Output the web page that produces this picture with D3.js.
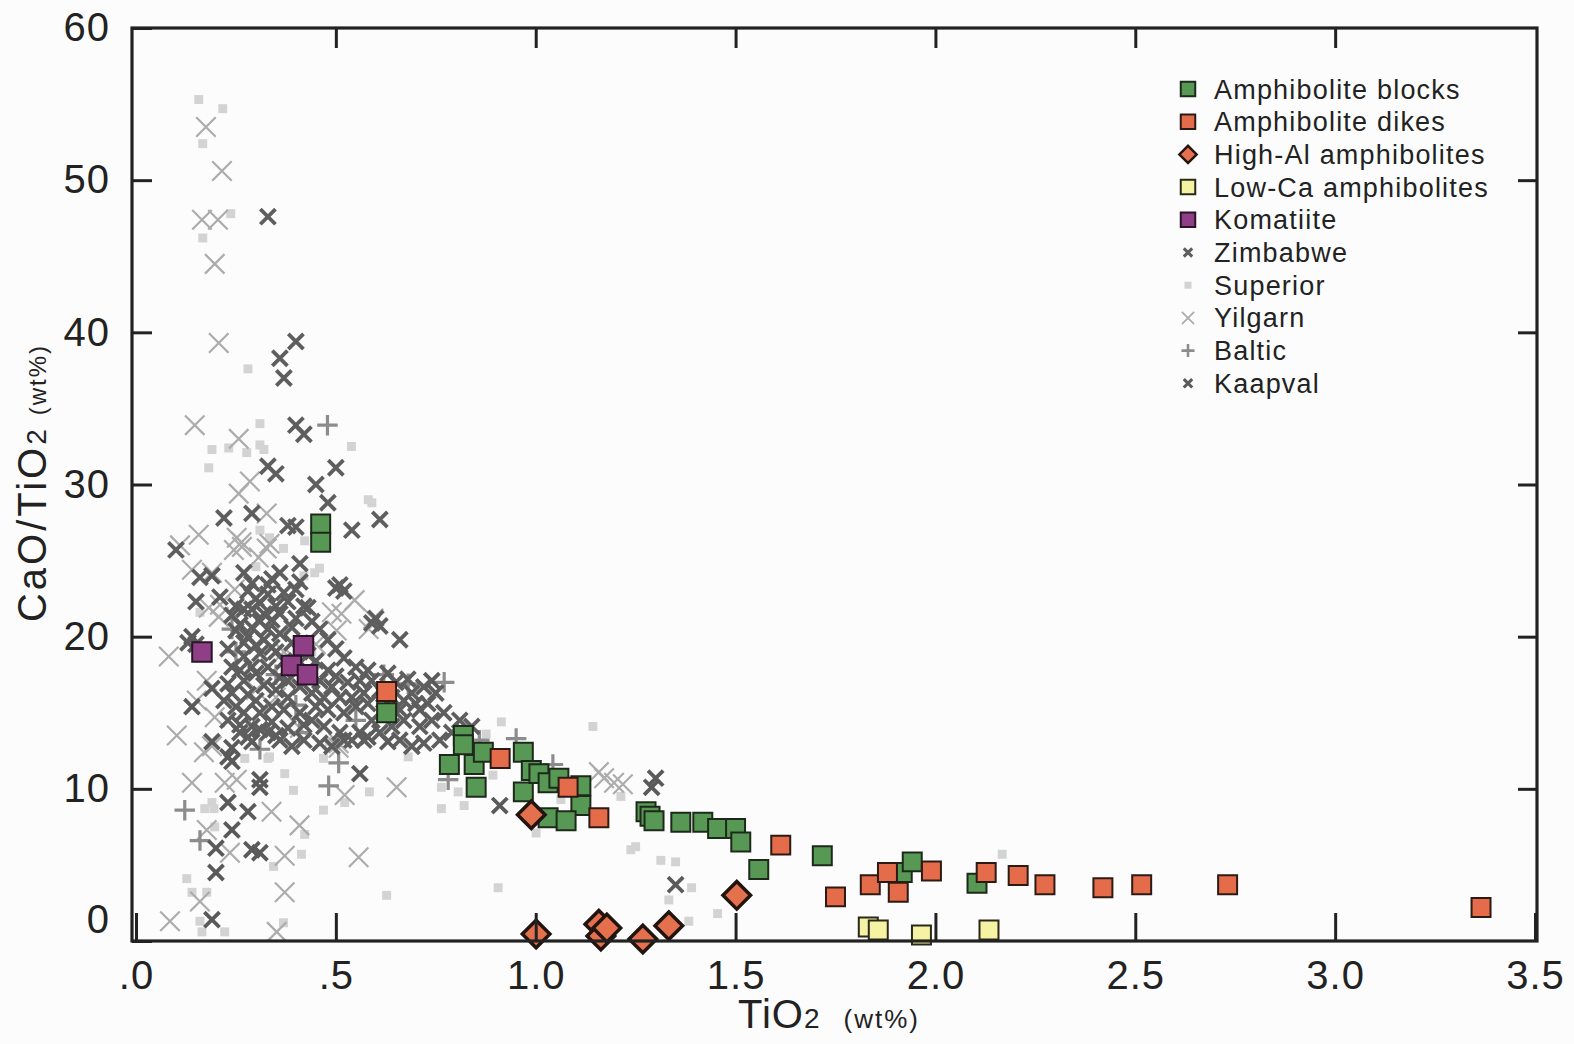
<!DOCTYPE html>
<html>
<head>
<meta charset="utf-8">
<script src="https://cdn.jsdelivr.net/npm/d3@7"></script>
<style>
  html, body { margin: 0; padding: 0; background: #fcfcfc; }
  svg { display: block; }
  text { font-family: "Liberation Sans", Arial, Helvetica, sans-serif; fill: #222; }
</style>
</head>
<body>
<svg id="chart" width="1574" height="1044"></svg>
<script>
// ---- Axis ticks ----
const xTickValues = [0, 0.5, 1.0, 1.5, 2.0, 2.5, 3.0, 3.5];
const xTickLabels = [".0", ".5", "1.0", "1.5", "2.0", "2.5", "3.0", "3.5"];
const yTickValues = [0, 10, 20, 30, 40, 50, 60];
const yTickLabels = ["0", "10", "20", "30", "40", "50", "60"];

// ---- Series: [TiO2 wt%, CaO/TiO2] ----
const amphiboliteBlocks = [
  [0.462, 27.4], [0.462, 26.2], [0.627, 15.0], [0.819, 13.5], [0.819, 12.9],
  [0.784, 11.6], [0.846, 11.6], [0.869, 12.4], [0.851, 10.1], [0.969, 12.4],
  [0.969, 9.8], [0.989, 11.2], [1.008, 11.0], [1.031, 10.4], [1.058, 10.7],
  [1.113, 10.2], [1.113, 8.9], [1.031, 8.1], [1.076, 7.9], [1.276, 8.5],
  [1.286, 8.2], [1.296, 7.9], [1.363, 7.8], [1.418, 7.8], [1.455, 7.4],
  [1.500, 7.4], [1.513, 6.5], [1.558, 4.7], [1.717, 5.6], [1.917, 4.5],
  [1.942, 5.2], [2.104, 3.8]
];
const amphiboliteDikes = [
  [0.627, 16.4], [0.911, 12.0], [1.081, 10.1], [1.158, 8.1], [1.613, 6.3],
  [1.750, 2.9], [1.837, 3.7], [1.880, 4.5], [1.907, 3.2], [1.990, 4.6],
  [2.127, 4.5], [2.207, 4.3], [2.274, 3.7], [2.419, 3.5], [2.516, 3.7],
  [2.731, 3.7], [3.365, 2.2]
];
const highAlAmphibolites = [
  [0.989, 8.3], [1.503, 3.0], [1.001, 0.46], [1.158, 1.1], [1.163, 0.33],
  [1.178, 0.85], [1.268, 0.13], [1.333, 1.0]
];
const lowCaAmphibolites = [
  [1.832, 0.92], [1.857, 0.72], [1.965, 0.39], [2.134, 0.72]
];
const komatiite = [
  [0.165, 19.0], [0.419, 19.4], [0.389, 18.1], [0.429, 17.5]
];
const zimbabwe = [
  [0.33, 47.6], [0.40, 39.4], [0.36, 38.3], [0.37, 37.0], [0.40, 33.9],
  [0.42, 33.3], [0.50, 31.1], [0.33, 31.2], [0.35, 30.7], [0.45, 30.0],
  [0.48, 28.8], [0.22, 27.8], [0.29, 28.1], [0.38, 27.3], [0.40, 27.2],
  [0.61, 27.7], [0.54, 27.0], [0.10, 25.7], [0.16, 23.9], [0.27, 24.2],
  [0.36, 24.2], [0.41, 24.8], [0.15, 22.3], [0.21, 22.6], [0.51, 23.4],
  [0.52, 23.0], [0.50, 23.2], [0.40, 23.1], [0.43, 21.9], [0.59, 20.9],
  [0.60, 21.2], [0.61, 20.7], [0.66, 19.8], [0.13, 19.6], [0.15, 19.5],
  [0.32, 21.5], [0.34, 21.1], [0.29, 20.6], [0.28, 20.0], [0.32, 19.8],
  [0.36, 20.2], [0.39, 20.6], [0.34, 19.3], [0.31, 18.9], [0.27, 18.7],
  [0.29, 18.0], [0.33, 18.0], [0.36, 17.3], [0.38, 17.1], [0.41, 16.7],
  [0.44, 16.3], [0.47, 16.0], [0.46, 17.1], [0.49, 16.7], [0.51, 16.0],
  [0.54, 16.0], [0.57, 16.3], [0.56, 17.1], [0.59, 17.1], [0.61, 16.5],
  [0.64, 16.0], [0.67, 15.8], [0.69, 16.3], [0.72, 16.7], [0.75, 16.3],
  [0.71, 15.2], [0.67, 14.5], [0.64, 14.1], [0.61, 13.7], [0.57, 13.2],
  [0.54, 13.2], [0.51, 13.7], [0.47, 14.1], [0.44, 14.5], [0.41, 15.0],
  [0.37, 15.2], [0.34, 15.4], [0.31, 15.0], [0.27, 15.0], [0.25, 15.4],
  [0.24, 16.3], [0.27, 17.1], [0.23, 14.5], [0.26, 13.7], [0.29, 14.1],
  [0.33, 13.7], [0.36, 13.2], [0.39, 12.8], [0.42, 13.2], [0.46, 13.0],
  [0.49, 12.8], [0.52, 13.2], [0.56, 13.7], [0.59, 14.5], [0.62, 15.0],
  [0.66, 15.2], [0.71, 14.1], [0.74, 14.5], [0.77, 15.0], [0.81, 14.5],
  [0.84, 14.1], [0.79, 13.7], [0.76, 13.2], [0.72, 13.0], [0.69, 12.8],
  [0.66, 13.2], [0.28, 23.0], [0.30, 22.5], [0.33, 22.8], [0.35, 22.0],
  [0.27, 21.8], [0.31, 21.0], [0.36, 21.5], [0.38, 22.3], [0.25, 22.0],
  [0.29, 23.5], [0.34, 23.8], [0.40, 21.2], [0.42, 22.0], [0.44, 21.0],
  [0.46, 20.5], [0.48, 19.8], [0.50, 19.2], [0.52, 18.6], [0.55, 18.0],
  [0.58, 17.8], [0.26, 20.8], [0.27, 19.6], [0.30, 19.4], [0.33, 20.5],
  [0.35, 19.0], [0.37, 18.4], [0.30, 17.6], [0.32, 16.8], [0.35, 16.5],
  [0.38, 16.0], [0.40, 17.8], [0.43, 17.6], [0.45, 18.4], [0.48, 17.8],
  [0.50, 17.4], [0.53, 17.0], [0.28, 16.2], [0.30, 15.8], [0.26, 14.2],
  [0.28, 13.4], [0.31, 13.9], [0.34, 14.4], [0.38, 14.0], [0.42, 14.2],
  [0.45, 15.4], [0.48, 15.2], [0.52, 15.0], [0.55, 15.4], [0.58, 15.6],
  [0.62, 16.2], [0.63, 17.6], [0.65, 17.0], [0.68, 17.2], [0.70, 15.6],
  [0.73, 15.6], [0.39, 19.6], [0.41, 19.0], [0.43, 18.8], [0.24, 18.0],
  [0.26, 17.8], [0.23, 16.9], [0.22, 15.8], [0.29, 21.8], [0.31, 22.2],
  [0.24, 21.4], [0.33, 23.4], [0.37, 22.9], [0.41, 23.6], [0.23, 19.2],
  [0.25, 20.4]
];
const superior = [
  [0.157, 55.3], [0.217, 54.7], [0.167, 52.4], [0.237, 47.8], [0.167, 46.2],
  [0.280, 37.6], [0.310, 34.0], [0.190, 32.3], [0.232, 32.4], [0.277, 32.1],
  [0.310, 32.6], [0.320, 32.3], [0.182, 31.1], [0.539, 32.5], [0.581, 29.0],
  [0.590, 28.8], [0.310, 27.0], [0.334, 26.5], [0.369, 25.8], [0.422, 26.3],
  [0.447, 24.2], [0.459, 24.5], [0.160, 21.6], [0.914, 14.4], [1.143, 14.1],
  [0.876, 13.6], [0.893, 10.9], [0.764, 10.1], [0.806, 9.8], [0.764, 8.7],
  [0.821, 8.9], [1.001, 7.1], [1.063, 9.3], [1.213, 9.5], [0.906, 3.5],
  [1.238, 6.0], [1.250, 6.2], [1.313, 5.3], [1.350, 5.2], [1.390, 3.5],
  [1.333, 2.7], [1.383, 1.3], [1.455, 1.8], [2.167, 5.7], [0.127, 4.1],
  [0.140, 3.2], [0.177, 3.2], [0.160, 1.3], [0.165, 0.6], [0.222, 0.6],
  [0.369, 1.2], [0.627, 3.0], [0.469, 8.6], [0.394, 9.9], [0.372, 11.0],
  [0.334, 12.1], [0.414, 5.7], [0.344, 4.9], [0.584, 9.8], [0.522, 9.1],
  [0.190, 9.1], [0.197, 7.5], [0.681, 12.1], [0.484, 13.1], [0.272, 12.0],
  [0.330, 12.0], [0.469, 12.0], [0.422, 7.0], [0.172, 8.7], [0.195, 8.7],
  [0.440, 19.0], [0.420, 24.0], [0.300, 24.6]
];
const yilgarn = [
  [0.175, 53.5], [0.215, 50.6], [0.165, 47.4], [0.205, 47.4], [0.197, 44.5],
  [0.207, 39.3], [0.147, 33.9], [0.257, 33.0], [0.285, 30.2], [0.257, 29.4],
  [0.327, 28.1], [0.157, 26.7], [0.110, 26.0], [0.264, 26.2], [0.334, 26.1],
  [0.245, 25.7], [0.190, 24.2], [0.247, 23.1], [0.210, 22.1], [0.514, 21.5],
  [0.547, 22.4], [0.594, 21.2], [0.502, 20.4], [0.207, 21.3], [0.182, 21.9],
  [0.082, 18.7], [0.177, 17.1], [0.152, 15.8], [0.197, 14.7], [0.102, 13.5],
  [0.190, 12.8], [0.170, 12.4], [0.140, 10.4], [0.222, 10.4], [0.252, 10.6],
  [0.177, 7.3], [0.339, 8.5], [0.409, 7.6], [0.372, 5.6], [0.235, 5.8],
  [0.160, 2.6], [0.372, 3.2], [0.085, 1.3], [0.352, 0.6], [0.557, 5.5],
  [0.652, 10.1], [0.522, 9.6], [0.507, 12.7], [0.490, 21.6], [0.582, 20.5],
  [0.252, 26.5], [0.265, 25.9], [0.307, 25.2], [0.327, 25.8], [0.140, 24.4],
  [1.158, 11.1], [1.171, 10.7], [1.196, 10.4], [1.218, 10.3], [0.507, 13.0],
  [0.440, 17.5], [0.400, 18.5], [0.370, 19.0], [0.450, 19.5], [0.300, 16.5],
  [0.350, 16.0], [0.410, 14.0]
];
const baltic = [
  [0.479, 33.9], [0.240, 20.5], [0.122, 8.6], [0.160, 6.6], [0.409, 13.7],
  [0.310, 12.6], [0.507, 11.7], [0.482, 10.2], [0.771, 17.0], [0.681, 16.9],
  [0.951, 13.3], [1.043, 11.6], [0.859, 13.2], [0.781, 10.6], [0.620, 17.5],
  [0.550, 14.5], [0.400, 15.5], [0.250, 19.0], [0.350, 17.5]
];
const kaapval = [
  [0.19, 16.6], [0.14, 15.4], [0.19, 13.1], [0.24, 12.7], [0.23, 12.1],
  [0.24, 11.8], [0.31, 10.6], [0.31, 10.1], [0.35, 13.5], [0.29, 13.1],
  [0.23, 9.1], [0.28, 8.5], [0.24, 7.3], [0.20, 6.1], [0.29, 6.0],
  [0.31, 5.8], [0.20, 4.5], [0.19, 1.4], [0.56, 11.0], [0.58, 13.4],
  [0.63, 13.1], [0.91, 8.9], [1.30, 10.7], [1.29, 10.1], [1.35, 3.7],
  [0.19, 24.0], [0.14, 20.0], [0.74, 17.1]
];

// ---- Marker shapes ----
const crossX = {
  draw(ctx, size) {
    const r = Math.sqrt(size) / 2;
    ctx.moveTo(-r, -r); ctx.lineTo(r, r);
    ctx.moveTo(r, -r); ctx.lineTo(-r, r);
  }
};
const plus = {
  draw(ctx, size) {
    const r = Math.sqrt(size) / 2;
    ctx.moveTo(-r, 0); ctx.lineTo(r, 0);
    ctx.moveTo(0, -r); ctx.lineTo(0, r);
  }
};

// Drawing order: background compilations first, then the studied samples
const series = [
  { name: "Superior", data: superior, type: d3.symbolSquare, size: 80, fill: "#d3d3d3", stroke: "none", sw: 0, lsize: 50 },
  { name: "Yilgarn", data: yilgarn, type: crossX, size: 380, fill: "none", stroke: "#acacac", sw: 2.2, lsize: 150 },
  { name: "Baltic", data: baltic, type: plus, size: 420, fill: "none", stroke: "#8c8c8c", sw: 3.2, lsize: 170 },
  { name: "Kaapval", data: kaapval, type: crossX, size: 230, fill: "none", stroke: "#5a5a5a", sw: 3.8, lsize: 70 },
  { name: "Zimbabwe", data: zimbabwe, type: crossX, size: 230, fill: "none", stroke: "#5e5e5e", sw: 3.8, lsize: 70 },
  { name: "Komatiite", data: komatiite, type: d3.symbolSquare, size: 380, fill: "#8e3f86", stroke: "#2a1528", sw: 2, lsize: 210 },
  { name: "Amphibolite blocks", data: amphiboliteBlocks, type: d3.symbolSquare, size: 360, fill: "#589855", stroke: "#1d2a1b", sw: 2, lsize: 210 },
  { name: "Amphibolite dikes", data: amphiboliteDikes, type: d3.symbolSquare, size: 360, fill: "#e46c4b", stroke: "#2c1a14", sw: 2, lsize: 210 },
  { name: "Low-Ca amphibolites", data: lowCaAmphibolites, type: d3.symbolSquare, size: 360, fill: "#f6f2a3", stroke: "#2a2818", sw: 2, lsize: 210 },
  { name: "High-Al amphibolites", data: highAlAmphibolites, type: d3.symbolSquare, size: 380, fill: "#e4704e", stroke: "#221510", sw: 3.5, lsize: 150, rotate: 45 }
];
const legendOrder = ["Amphibolite blocks", "Amphibolite dikes", "High-Al amphibolites", "Low-Ca amphibolites",
  "Komatiite", "Zimbabwe", "Superior", "Yilgarn", "Baltic", "Kaapval"];

// ---- Layout ----
const svg = d3.select("#chart");
const frameLeft = 132, frameRight = 1537, frameTop = 28, frameBottom = 941;
const x = d3.scaleLinear().domain([0, 3.5]).range([136, 1535]);
const y = d3.scaleLinear().domain([0, 60]).range([frameBottom, frameTop]);

const ink = "#222";

// Points
const plot = svg.append("g");
series.forEach(s => {
  const sym = d3.symbol().type(s.type).size(s.size);
  plot.append("g").selectAll("path").data(s.data).join("path")
    .attr("d", sym)
    .attr("transform", d => `translate(${x(d[0])},${y(d[1])})` + (s.rotate ? ` rotate(${s.rotate})` : ""))
    .attr("fill", s.fill)
    .attr("stroke", s.stroke)
    .attr("stroke-width", s.sw)
    .attr("stroke-linejoin", "miter");
});

// Axes (ticks point inward on all four sides)
const fmtX = d => xTickLabels[xTickValues.indexOf(d)];
const fmtY = d => yTickLabels[yTickValues.indexOf(d)];

function styleAxis(g) {
  g.select(".domain").remove();
  g.selectAll(".tick line").attr("stroke", ink).attr("stroke-width", 3);
  g.selectAll(".tick text").attr("fill", ink).style("font-family", "'Liberation Sans', Arial, sans-serif");
}

svg.append("g").attr("transform", `translate(0,${frameBottom})`)
  .call(d3.axisBottom(x).tickValues(xTickValues).tickFormat(fmtX).tickSize(-28).tickPadding(20))
  .call(styleAxis)
  .call(g => g.selectAll(".tick text").style("font-size", "40px").style("letter-spacing", "1px"));

svg.append("g").attr("transform", `translate(0,${frameTop})`)
  .call(d3.axisTop(x).tickValues(xTickValues.slice(1, -1)).tickFormat("").tickSize(-20))
  .call(styleAxis);

svg.append("g").attr("transform", `translate(${frameLeft},0)`)
  .call(d3.axisLeft(y).tickValues(yTickValues).tickFormat(fmtY).tickSize(-20).tickPadding(22))
  .call(styleAxis)
  .call(g => g.selectAll(".tick text").style("font-size", "40px").style("letter-spacing", "1px"))
  .call(g => g.selectAll(".tick").filter(d => d === 0).select("text").attr("transform", "translate(0,-21)"));

svg.append("g").attr("transform", `translate(${frameRight},0)`)
  .call(d3.axisRight(y).tickValues(yTickValues.slice(1, -1)).tickFormat("").tickSize(-19))
  .call(styleAxis);

// Frame
svg.append("rect")
  .attr("x", frameLeft).attr("y", frameTop)
  .attr("width", frameRight - frameLeft).attr("height", frameBottom - frameTop)
  .attr("fill", "none").attr("stroke", ink).attr("stroke-width", 3.2);

// Axis titles
const xt = svg.append("text").attr("x", 829).attr("y", 1028).attr("text-anchor", "middle");
xt.append("tspan").text("TiO").style("font-size", "40px").style("letter-spacing", "1px");
xt.append("tspan").text("2").style("font-size", "28px");
xt.append("tspan").text("(wt%)").attr("dx", 24).style("font-size", "26px").style("letter-spacing", "2px");

const yt = svg.append("text").attr("transform", "translate(46,483) rotate(-90)").attr("text-anchor", "middle");
yt.append("tspan").text("CaO/TiO").style("font-size", "40px").style("letter-spacing", "3px");
yt.append("tspan").text("2").style("font-size", "28px");
yt.append("tspan").text("(wt%)").attr("dx", 14).style("font-size", "24px").style("letter-spacing", "2px");

// Legend
const legend = svg.append("g");
legendOrder.forEach((name, i) => {
  const s = series.find(d => d.name === name);
  const cy = 89 + i * 32.7;
  legend.append("path")
    .attr("d", d3.symbol().type(s.type).size(s.lsize)())
    .attr("transform", `translate(1188,${cy})` + (s.rotate ? ` rotate(${s.rotate})` : ""))
    .attr("fill", s.fill)
    .attr("stroke", s.stroke)
    .attr("stroke-width", s.type === d3.symbolSquare ? Math.min(s.sw, 2.4) : s.sw * 0.8);
  legend.append("text")
    .attr("x", 1214).attr("y", cy + 9.5)
    .style("font-size", "27px").style("letter-spacing", "1.2px")
    .text(name);
});
</script>
</body>
</html>
